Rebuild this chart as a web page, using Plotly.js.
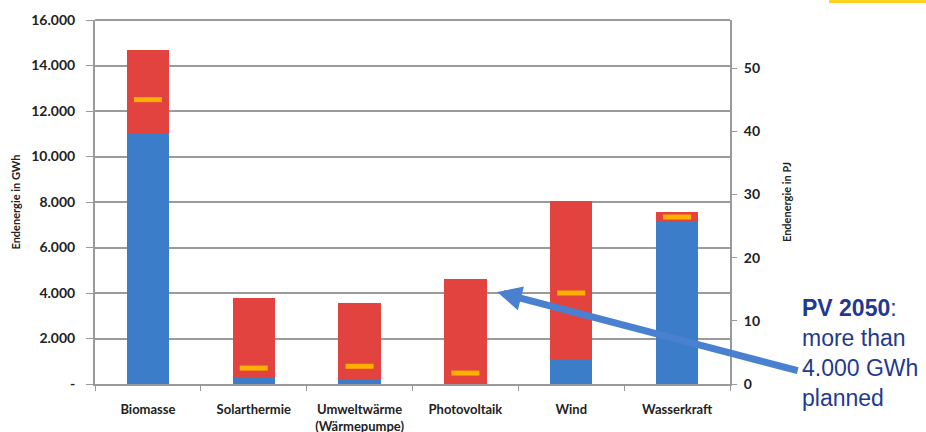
<!DOCTYPE html>
<html>
<head>
<meta charset="utf-8">
<script src="https://cdn.plot.ly/plotly-3.0.1.min.js"></script>
<style>html,body{margin:0;padding:0;background:#fff;}#chart{width:926px;height:432px;}</style>
</head>
<body>
<div id="chart"></div>
<script>
// Data (GWh)
const categories = ['Biomasse', 'Solarthermie', 'Umweltwärme<br>(Wärmepumpe)', 'Photovoltaik', 'Wind', 'Wasserkraft'];
const blueValues = [11050, 250, 170, 0, 1100, 7100];
const redValues = [3630, 3530, 3390, 4620, 6950, 460];
const markerValues = [12500, 700, 780, 480, 4000, 7340];
const leftTickVals = [0, 2000, 4000, 6000, 8000, 10000, 12000, 14000, 16000];
const leftTickText = ['-', '2.000', '4.000', '6.000', '8.000', '10.000', '12.000', '14.000', '16.000'];
const rightTickVals = [0, 10, 20, 30, 40, 50];
const rightTickText = ['0', '10', '20', '30', '40', '50'];

const fam = 'Lato, "Open Sans", sans-serif';
const bold = a => a.map(t => t.split('<br>').map(s => '<b>' + s + '</b>').join('<br>'));

const traces = [
  {type: 'bar', x: categories, y: blueValues, marker: {color: '#3B7DC8'}, width: 0.4, hoverinfo: 'none'},
  {type: 'bar', x: categories, y: redValues, marker: {color: '#E2433F'}, width: 0.4, hoverinfo: 'none'},
  {type: 'scatter', mode: 'markers', x: categories, y: markerValues,
   marker: {symbol: 'line-ew', size: 20, line: {width: 5, color: '#FFB000'}}, hoverinfo: 'none'},
  {type: 'scatter', mode: 'markers', x: [categories[0]], y: [0], yaxis: 'y2',
   marker: {opacity: 0}, hoverinfo: 'none'}
];

const layout = {
  width: 926, height: 432,
  margin: {l: 95, r: 196, t: 20, b: 48},
  paper_bgcolor: 'rgba(0,0,0,0)',
  plot_bgcolor: 'rgba(0,0,0,0)',
  showlegend: false,
  barmode: 'stack',
  xaxis: {
    type: 'category', range: [-0.5, 5.5], tickangle: 0,
    tickvals: categories, ticktext: bold(categories), tickfont: {family: fam, size: 13, color: '#222'},
    ticklabelstandoff: 12,
    showline: true, linecolor: '#9a9a9a', linewidth: 2,
    ticks: 'outside', tickson: 'boundaries', ticklen: 5, tickcolor: '#9a9a9a', tickwidth: 1,
    showgrid: false, fixedrange: true
  },
  yaxis: {
    range: [0, 16000], tickvals: leftTickVals, ticktext: bold(leftTickText), tickfont: {family: fam, size: 14, color: '#222'},
    ticklabelstandoff: 8,
    showgrid: true, gridcolor: '#9a9a9a', gridwidth: 2,
    showline: true, linecolor: '#9a9a9a', linewidth: 2,
    ticks: 'outside', ticklen: 7, tickcolor: '#9a9a9a', tickwidth: 1,
    zeroline: false,
    title: {text: '<b>Endenergie in GWh</b>', font: {family: fam, size: 11, color: '#222'}, standoff: 8}
  },
  yaxis2: {
    overlaying: 'y', side: 'right', range: [0, 57.6],
    tickvals: rightTickVals, ticktext: bold(rightTickText), tickfont: {family: fam, size: 14, color: '#222'},
    ticklabelstandoff: 4,
    showgrid: false, zeroline: false,
    showline: true, linecolor: '#9a9a9a', linewidth: 2,
    ticks: 'outside', ticklen: 5, tickcolor: '#9a9a9a', tickwidth: 1,
    title: {text: '<b>Endenergie in PJ</b>', font: {family: fam, size: 11, color: '#222'}, standoff: 24}
  },
  shapes: [
    {type: 'rect', xref: 'paper', yref: 'paper', x0: 1.156, x1: 1.31, y0: 1.047, y1: 1.06,
     fillcolor: '#FFD21F', line: {width: 0}},
    {type: 'line', xref: 'paper', yref: 'paper', x0: 0, x1: 1, y0: 1, y1: 1,
     line: {color: '#9a9a9a', width: 2}}
  ],
  annotations: [
    {xref: 'x', yref: 'y', x: 3.3, y: 4040, ax: 302, ay: 79, axref: 'pixel', ayref: 'pixel',
     text: '', showarrow: true, arrowhead: 2, arrowsize: 0.7, arrowwidth: 7, arrowcolor: '#4A80D0', standoff: 0},
    {xref: 'paper', yref: 'paper', x: 1.111, y: 0.25, xanchor: 'left', yanchor: 'top', align: 'left',
     showarrow: false,
     text: '<b>PV 2050</b>:<br>more than<br>4.000 GWh<br>planned',
     font: {family: 'Liberation Sans, Arial, sans-serif', size: 23, color: '#1F3A8F'}}
  ]
};

Plotly.newPlot('chart', traces, layout, {displayModeBar: false, staticPlot: true});
</script>
</body>
</html>
